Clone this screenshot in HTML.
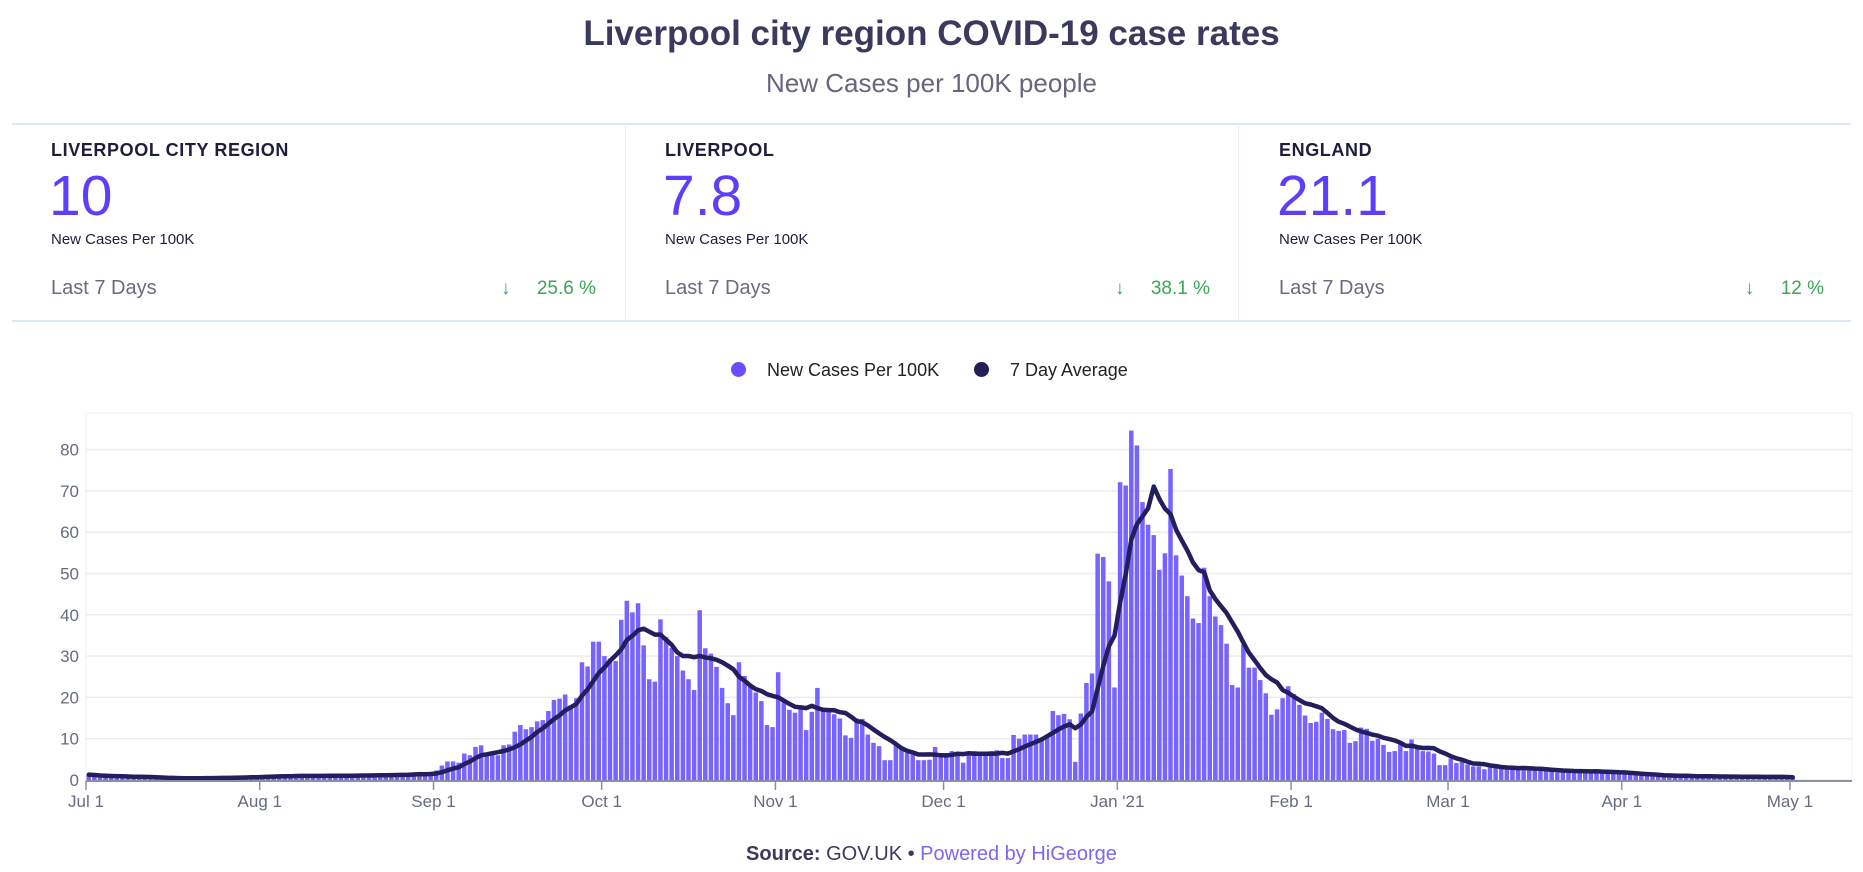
<!DOCTYPE html>
<html><head><meta charset="utf-8">
<style>
*{margin:0;padding:0;box-sizing:border-box}
body{width:1863px;height:872px;background:#fff;font-family:"Liberation Sans",sans-serif;position:relative;overflow:hidden}
.abs{position:absolute}
#title{left:0;width:1863px;top:14px;text-align:center;font-size:35px;font-weight:bold;color:#3a3a5e}
#subtitle{left:0;width:1863px;top:68px;text-align:center;font-size:26px;color:#66667e}
.hline{left:12px;width:1839px;height:2px;background:#dde8f6}
.vline{top:124px;height:197px;width:1px;background:#e6eef8}
.card-label{font-size:18px;font-weight:bold;color:#1e1e3c;letter-spacing:0.6px;top:140px}
.card-value{font-size:57px;color:#5a3ffb;top:163px}
.card-sub{font-size:15px;color:#1e1e3c;top:231px}
.card-last{font-size:20px;color:#6a6a80;top:277px}
.card-pct{font-size:19px;color:#3aa655;top:278px;text-align:right;width:160px}
.legend-text{font-size:18px;color:#222;top:360px}
.legend-dot{width:15px;height:15px;border-radius:50%;top:362px}
#source{left:0;width:1863px;top:843px;text-align:center;font-size:20px;color:#3a3a5e}
</style></head><body>
<div class="abs" id="title">Liverpool city region COVID-19 case rates</div>
<div class="abs" id="subtitle">New Cases per 100K people</div>
<div class="abs hline" style="top:123px"></div>
<div class="abs hline" style="top:320px"></div>
<div class="abs vline" style="left:625px"></div>
<div class="abs vline" style="left:1238px"></div>

<div>
<div class="abs card-label" style="left:51px">LIVERPOOL CITY REGION</div>
<div class="abs card-value" style="left:49px">10</div>
<div class="abs card-sub" style="left:51px">New Cases Per 100K</div>
<div class="abs card-last" style="left:51px">Last 7 Days</div>
<div class="abs card-pct" style="left:436px">↓ &nbsp;&nbsp;&nbsp; 25.6 %</div>
</div>
<div>
<div class="abs card-label" style="left:665px">LIVERPOOL</div>
<div class="abs card-value" style="left:663px">7.8</div>
<div class="abs card-sub" style="left:665px">New Cases Per 100K</div>
<div class="abs card-last" style="left:665px">Last 7 Days</div>
<div class="abs card-pct" style="left:1050px">↓ &nbsp;&nbsp;&nbsp; 38.1 %</div>
</div>
<div>
<div class="abs card-label" style="left:1279px">ENGLAND</div>
<div class="abs card-value" style="left:1277px">21.1</div>
<div class="abs card-sub" style="left:1279px">New Cases Per 100K</div>
<div class="abs card-last" style="left:1279px">Last 7 Days</div>
<div class="abs card-pct" style="left:1664px">↓ &nbsp;&nbsp;&nbsp; 12 %</div>
</div>

<div>
<div class="abs legend-dot" style="left:731px;background:#6a4dfb"></div>
<div class="abs legend-text" style="left:767px">New Cases Per 100K</div>
<div class="abs legend-dot" style="left:974px;background:#231f55"></div>
<div class="abs legend-text" style="left:1010px">7 Day Average</div>
</div>

<svg id="chart" class="abs" style="left:0;top:0" width="1863" height="872"></svg>

<div class="abs" id="source"><b>Source:</b> GOV.UK • <span style="color:#7b68ee">Powered by HiGeorge</span></div>

<script>
const julAug = [1.3,1.1,0.9,0.8,0.7,0.8,0.9,0.8,0.7,0.7,0.6,0.5,0.5,0.4,0.4,0.5,0.4,0.4,0.5,0.5,0.4,0.5,0.5,0.6,0.5,0.6,0.7,0.6,0.7,0.8,0.8,
0.9,1.0,0.9,1.0,1.0,0.9,1.0,1.1,1.0,0.9,1.0,1.0,1.1,1.0,1.1,1.0,1.1,1.2,1.1,1.2,1.1,1.2,1.3,1.2,1.3,1.4,1.3,1.6,1.9];
const autumnWave = [1.1,1.5,2.3,3.5,4.5,4.5,4.2,6.4,6,8,8.4,6,6.4,6,8.4,8.6,11.7,13.3,12.3,12.8,14.2,14.5,16.7,19.4,19.7,20.7,18.1,19.8,28.5,27.5,
33.5,33.5,30,29.4,28.8,38.8,43.4,40.6,42.8,32.6,24.4,23.8,38.9,34.6,32,30,26.5,24.4,21.8,41.1,31.9,30.6,27.4,22.3,18.6,15.7,28.5,25.2,22.5,21.2,
19.1,13.3,12.8,26.1,19.5,17,16.3,18.1,12.1,16.5,22.3,16.7,16.5,15.9,14.9,10.8,10.2,14.9,14.8,11,9,8.2,4.8,4.8,8.4,7.7,6.6,6.2,4.8,4.8];
const winterWave = [4.9,8,6.5,6.5,7,6.8,4.2,6.5,7,6.5,6.5,7,7.2,5.3,5.3,10.9,10,11,11,11,9.6,10.7,16.7,15.7,16,
14.7,4.4,16.1,23.5,25.8,54.8,54,48.1,22.4,72.1,71.3,84.6,81,67.3,61.8,59.3,50.9,54.9,75.3,54.4,
49.5,44.5,39.1,38,51.4,44.5,39.6,37.5,33,23,22.4,32.8,27.2,27.2,24.2,21,15.8,17.1,19.8,22.7,
20.8,18.2,15.6,13.8,14.1,16.3,14.8,12.3,11.9,12.1,9,9.4,12.7,12.4,9.5,10,8.5,6.8,7,9];
const springTail = [7,9.8,7.7,7,6.9,6.4,3.6,3.6,5.2,4.1,4.4,3.8,3.3,3.3,2.6,
3.0,3.1,2.9,3.0,3.0,2.6,2.8,2.6,2.5,2.4,2.3,2.3,1.8,2.2,2.2,2.1,2.2,2.0,2.1,1.9,1.8,1.8,1.7,1.8,1.7,
1.3,1.2,1.2,1.1,1.2,1.1,1.0,1.0,0.9,1.0,0.9,0.9,0.8,0.9,0.8,0.8,0.9,0.8,0.8,0.7,0.8,0.8,0.7,0.8,0.7,0.8,0.7,0.7,0.6,0.5];
const yTicks = [0,10,20,30,40,50,60,70,80];
const xTickLabels = ["Jul 1","Aug 1","Sep 1","Oct 1","Nov 1","Dec 1","Jan '21","Feb 1","Mar 1","Apr 1","May 1"];
const xTickDays = [0,31,62,92,123,153,184,215,243,274,304];

const dailyCases = julAug.concat(autumnWave, winterWave, springTail);
const NS='http://www.w3.org/2000/svg';
const svg=document.getElementById('chart');
const X0=86, DAYW=5.605, Y0=780, PERUNIT=4.13, RIGHT=1852, TOP=413;
const xs=d=>X0+d*DAYW;
const ys=v=>Y0-v*PERUNIT;
function mk(tag,attrs){const e=document.createElementNS(NS,tag);for(const k in attrs)e.setAttribute(k,attrs[k]);svg.appendChild(e);return e;}

const frame=mk('rect',{x:X0,y:TOP,width:RIGHT-X0,height:Y0-TOP,fill:'none',stroke:'#eef0f4','stroke-width':1});



yTicks.forEach(t=>{
  const g=mk('line',{x1:X0,x2:RIGHT,y1:ys(t),y2:ys(t),stroke:'#ececf0','stroke-width':1.5});
  
  
  const l=mk('text',{x:79,y:ys(t)+6,'text-anchor':'end','font-size':17,fill:'#666b80','font-family':'Liberation Sans, sans-serif'});
  l.textContent=t;
  
  
});

dailyCases.forEach((v,i)=>{
  const b=mk('rect',{x:xs(i)+0.5,y:ys(v),width:DAYW-1.1,height:Math.max(0,Y0-ys(v)),fill:'#7763ff'});
  
  
});

const avg=dailyCases.map((v,i)=>{const s=dailyCases.slice(Math.max(0,i-6),i+1);return s.reduce((a,b)=>a+b,0)/s.length;});
const pts=avg.map((v,i)=>xs(i+0.5).toFixed(1)+','+ys(v).toFixed(1)).join(' ');
const line=mk('polyline',{points:pts,fill:'none',stroke:'#231f5c','stroke-width':4.5,'stroke-linejoin':'round','stroke-linecap':'round'});



const ax=mk('line',{x1:X0,x2:RIGHT,y1:Y0+1,y2:Y0+1,stroke:'#8a8fa8','stroke-width':2});


xTickDays.forEach((d,i)=>{
  const t=mk('line',{x1:xs(d),x2:xs(d),y1:Y0+1,y2:Y0+10,stroke:'#8a8fa8','stroke-width':1.5});
  
  
  const l=mk('text',{x:xs(d),y:Y0+27,'text-anchor':'middle','font-size':17,fill:'#666b80','font-family':'Liberation Sans, sans-serif'});
  l.textContent=xTickLabels[i];
  
  
});
</script>
</body></html>
